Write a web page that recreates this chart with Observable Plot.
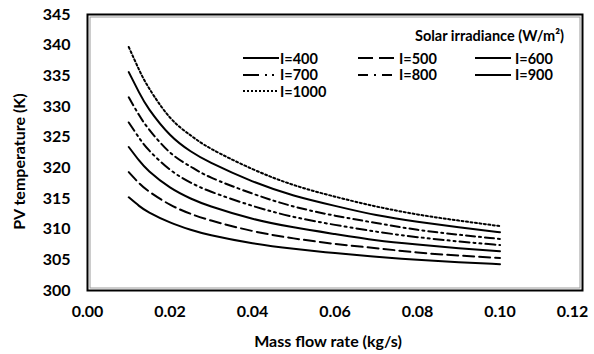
<!DOCTYPE html>
<html><head><meta charset="utf-8">
<script src="https://cdn.jsdelivr.net/npm/d3@7"></script>
<script src="https://cdn.jsdelivr.net/npm/@observablehq/plot@0.6"></script>
<style>
body{margin:0;background:#fff;}
#wrap{position:relative;width:594px;height:354px;font-family:Lato,"Open Sans",sans-serif;color:#000;}
.lg{position:absolute;font-weight:bold;font-size:14.5px;line-height:15px;white-space:nowrap;}
.sw{position:absolute;}
</style></head><body><div id="wrap"></div>
<script>
// Data
const massFlow = [0.01, 0.0125, 0.015, 0.02, 0.025, 0.03, 0.04, 0.05, 0.06, 0.07, 0.08, 0.09, 0.10];
const T400  = [315.2, 313.8, 312.7, 311.1, 309.9, 309.0, 307.7, 306.8, 306.1, 305.5, 305.0, 304.6, 304.3];
const T500  = [319.3, 317.5, 316.1, 314.0, 312.5, 311.4, 309.7, 308.5, 307.6, 306.9, 306.2, 305.7, 305.3];
const T600  = [323.4, 321.2, 319.4, 316.8, 315.0, 313.7, 311.7, 310.3, 309.2, 308.2, 307.5, 306.9, 306.4];
const T700  = [327.4, 324.9, 322.8, 319.7, 317.6, 316.1, 313.8, 312.0, 310.7, 309.6, 308.7, 308.0, 307.4];
const T800  = [331.5, 328.6, 326.2, 322.5, 320.2, 318.4, 315.8, 313.7, 312.2, 311.0, 309.9, 309.1, 308.4];
const T900  = [335.6, 332.3, 329.5, 325.4, 322.7, 320.8, 317.8, 315.5, 313.8, 312.3, 311.2, 310.3, 309.5];
const T1000 = [339.7, 336.0, 332.9, 328.2, 325.3, 323.1, 319.8, 317.2, 315.3, 313.7, 312.4, 311.4, 310.5];
const seriesNames = ["I=400", "I=500", "I=600", "I=700", "I=800", "I=900", "I=1000"];
const seriesValues = [T400, T500, T600, T700, T800, T900, T1000];
const xTicks = [0, 0.02, 0.04, 0.06, 0.08, 0.10, 0.12];
const yTicks = [300, 305, 310, 315, 320, 325, 330, 335, 340, 345];
const legendTitle = "Solar irradiance (W/m\u00B2)";
const xTitle = "Mass flow rate (kg/s)";
const yTitle = "PV temperature (K)";

// styles (not data)
const lineDash = {"I=400": null, "I=500": "11,5", "I=600": null, "I=700": "10,4,2,4,2,4",
  "I=800": "9,4,2,4", "I=900": null, "I=1000": "2,2.5"};
const legendDash = {"I=400": null, "I=500": "15,6", "I=600": null, "I=700": "16,6,2,5,2,5",
  "I=800": "10,6,2,6", "I=900": null, "I=1000": "2,2"};

const rows = [];
seriesNames.forEach((s, i) => massFlow.forEach((m, j) => rows.push({series: s, m, T: seriesValues[i][j]})));

const tickFmt = d => d.toFixed(2);
const marks = [
  Plot.frame({stroke: "#9a9a9a", strokeWidth: 1, inset: 2.5}),
  Plot.frame({stroke: "#000", strokeWidth: 2}),
  Plot.axisX(xTicks.slice(0, -1), {tickSize: 0, tickPadding: 15, tickFormat: tickFmt, label: null, fontSize: 16}),
  Plot.axisX(xTicks.slice(-1), {tickSize: 0, tickPadding: 15, tickFormat: tickFmt, label: null, fontSize: 16, dx: -10}),
  Plot.axisY(yTicks, {tickSize: 0, tickPadding: 17, label: null, fontSize: 16})
];
seriesNames.forEach(s => {
  marks.push(Plot.line(rows.filter(d => d.series === s), {
    x: "m", y: "T", stroke: "#000", strokeWidth: 2,
    strokeDasharray: lineDash[s] || undefined, curve: "natural"
  }));
});
marks.push(Plot.text([xTitle], {frameAnchor: "bottom", textAnchor: "middle", lineAnchor: "middle", dx: -7, dy: 51, fontSize: 16, fontWeight: "bold", fill: "#000"}));
marks.push(Plot.text([yTitle], {frameAnchor: "left", textAnchor: "middle", lineAnchor: "middle", rotate: -90, dx: -68, dy: 9, fontSize: 16, fontWeight: "bold", fill: "#000"}));

const chart = Plot.plot({
  width: 594, height: 354,
  marginLeft: 87, marginRight: 12, marginTop: 14, marginBottom: 64,
  x: {domain: [0, 0.12]},
  y: {domain: [300, 345]},
  style: {fontFamily: "Lato, 'Open Sans', sans-serif", fontSize: "16px", fontWeight: "bold", color: "#000", background: "#fff"},
  marks
});
const wrap = document.getElementById("wrap");
wrap.appendChild(chart);

// Legend overlay
const t = document.createElement("div");
t.className = "lg"; t.textContent = legendTitle;
t.style.left = "415px"; t.style.top = "28px";
wrap.appendChild(t);
const colSw = [243, 358, 475], colLb = [280, 399, 515], rowY = [58, 74.5, 91];
seriesNames.forEach((s, i) => {
  const c = i % 3, r = Math.floor(i / 3);
  const svgNS = "http://www.w3.org/2000/svg";
  const sv = document.createElementNS(svgNS, "svg");
  sv.setAttribute("width", 36); sv.setAttribute("height", 6);
  sv.setAttribute("class", "sw");
  sv.style.left = colSw[c] + "px"; sv.style.top = (rowY[r] - 3) + "px";
  const ln = document.createElementNS(svgNS, "line");
  ln.setAttribute("x1", 0); ln.setAttribute("x2", 36); ln.setAttribute("y1", 3); ln.setAttribute("y2", 3);
  ln.setAttribute("stroke", "#000"); ln.setAttribute("stroke-width", 2);
  if (legendDash[s]) ln.setAttribute("stroke-dasharray", legendDash[s]);
  sv.appendChild(ln);
  wrap.appendChild(sv);
  const lb = document.createElement("div");
  lb.className = "lg"; lb.textContent = s;
  lb.style.left = colLb[c] + "px"; lb.style.top = (rowY[r] - 7.5) + "px";
  wrap.appendChild(lb);
});
</script></body></html>
